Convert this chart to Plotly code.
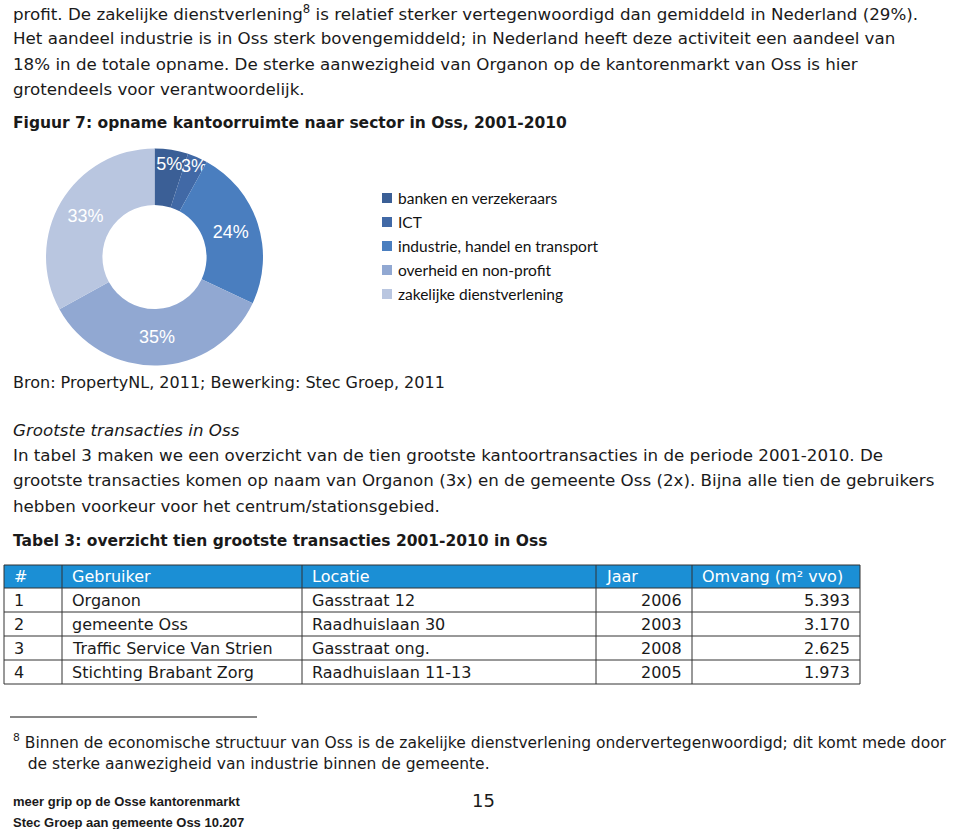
import plotly.graph_objects as go

# donut data
sectors = ["banken en verzekeraars", "ICT", "industrie, handel en transport",
           "overheid en non-profit", "zakelijke dienstverlening"]
shares = [5, 3, 24, 35, 33]
sector_colors = ["#3b5f96", "#4169a6", "#4a7ebf", "#91a8d2", "#b9c6e0"]

# table data
tbl_header = ["#", "Gebruiker", "Locatie", "Jaar", "Omvang (m² vvo)"]
tbl_nr = ["1", "2", "3", "4"]
tbl_gebruiker = ["Organon", "gemeente Oss", "Traffic Service Van Strien", "Stichting Brabant Zorg"]
tbl_locatie = ["Gasstraat 12", "Raadhuislaan 30", "Gasstraat ong.", "Raadhuislaan 11-13"]
tbl_jaar = ["2006", "2003", "2008", "2005"]
tbl_omvang = ["5.393", "3.170", "2.625", "1.973"]

intro_lines = [
    "profit. De zakelijke dienstverlening<sup>8</sup> is relatief sterker vertegenwoordigd dan gemiddeld in Nederland (29%).",
    "Het aandeel industrie is in Oss sterk bovengemiddeld; in Nederland heeft deze activiteit een aandeel van",
    "18% in de totale opname. De sterke aanwezigheid van Organon op de kantorenmarkt van Oss is hier",
    "grotendeels voor verantwoordelijk.",
]
body_lines = [
    "In tabel 3 maken we een overzicht van de tien grootste kantoortransacties in de periode 2001-2010. De",
    "grootste transacties komen op naam van Organon (3x) en de gemeente Oss (2x). Bijna alle tien de gebruikers",
    "hebben voorkeur voor het centrum/stationsgebied.",
]
foot_lines = [
    "<sup>8</sup> Binnen de economische structuur van Oss is de zakelijke dienstverlening ondervertegenwoordigd; dit komt mede door",
    "   de sterke aanwezigheid van industrie binnen de gemeente.",
]

W, H = 960, 829
TXT = "DejaVu Sans, Liberation Sans, sans-serif"
INK = "#1a1a1a"

fig = go.Figure()
fig.add_trace(go.Pie(
    labels=sectors, values=shares, hole=0.48, sort=False, direction="clockwise",
    rotation=0, marker=dict(colors=sector_colors, line=dict(width=0)),
    texttemplate="%{value}%", textposition="inside", insidetextorientation="horizontal",
    textfont=dict(family="Liberation Sans, Arial, sans-serif", size=18, color="white"), showlegend=False,
    domain=dict(x=[46 / W, 263 / W], y=[1 - 366 / H, 1 - 148 / H]),
))

ann = []
def txt(x, y, s, size=16.7, anchor="left", color=INK, family=TXT):
    ann.append(dict(x=x, y=y, xref="x", yref="y", text=s, showarrow=False, xanchor=anchor,
                    yanchor="middle", font=dict(family=family, size=size, color=color)))

for i, s in enumerate(intro_lines):
    txt(11, 13 + i * 25.3, s)
txt(11, 123, "<b>Figuur 7: opname kantoorruimte naar sector in Oss, 2001-2010</b>", size=15.5)

# manual legend
for i, (lab, c) in enumerate(zip(sectors, sector_colors)):
    y = 198 + i * 24
    fig.add_shape(type="rect", x0=382, x1=392, y0=y - 5, y1=y + 5, fillcolor=c, line=dict(width=0))
    txt(396, y, lab, size=15.5, family="Lato, Open Sans, sans-serif", color="#111")

txt(11, 382, "Bron: PropertyNL, 2011; Bewerking: Stec Groep, 2011", size=16)
txt(11, 430, "<i>Grootste transacties in Oss</i>")
for i, s in enumerate(body_lines):
    txt(11, 455 + i * 25.3, s)
txt(11, 541, "<b>Tabel 3: overzicht tien grootste transacties 2001-2010 in Oss</b>", size=15.5)

# table
cols = [4, 62, 302, 596, 692, 860]
rows = [565, 588, 612, 636, 660, 684]
fig.add_shape(type="rect", x0=cols[0], x1=cols[-1], y0=rows[0], y1=rows[1],
              fillcolor="#1b8fd5", line=dict(width=0))
for y in rows:
    fig.add_shape(type="line", x0=cols[0], x1=cols[-1], y0=y, y1=y, line=dict(color="#333", width=1))
for x in cols:
    fig.add_shape(type="line", x0=x, x1=x, y0=rows[0], y1=rows[-1], line=dict(color="#333", width=1))
aligns = ["left", "left", "left", "right", "right"]
for ci, h in enumerate(tbl_header):
    txt(cols[ci] + 8, (rows[0] + rows[1]) / 2, h, size=16, color="white")
for ri, rec in enumerate(zip(tbl_nr, tbl_gebruiker, tbl_locatie, tbl_jaar, tbl_omvang)):
    ym = (rows[ri + 1] + rows[ri + 2]) / 2
    for ci, s in enumerate(rec):
        if aligns[ci] == "left":
            txt(cols[ci] + 8, ym, s, size=16)
        else:
            txt(cols[ci + 1] - 8, ym, s, size=16, anchor="right")

# footnote
fig.add_shape(type="line", x0=10, x1=257, y0=717, y1=717, line=dict(color="#111", width=1))
for i, s in enumerate(foot_lines):
    txt(11, 741 + i * 23, s, size=15.5)
txt(11, 801, "<b>meer grip op de Osse kantorenmarkt</b>", size=13, family="Liberation Sans, Arial, sans-serif")
txt(11, 822, "<b>Stec Groep aan gemeente Oss 10.207</b>", size=13, family="Liberation Sans, Arial, sans-serif")
txt(483, 800, "15", size=18, anchor="center")

fig.update_layout(
    width=W, height=H, margin=dict(l=0, r=0, t=0, b=0),
    paper_bgcolor="white", plot_bgcolor="white",
    xaxis=dict(range=[0, W], visible=False, fixedrange=True),
    yaxis=dict(range=[H, 0], visible=False, fixedrange=True),
    uniformtext=dict(minsize=18, mode="show"),
    annotations=ann,
)
fig.write_html("out.html", config={"displayModeBar": False},
               post_script="document.body.style.margin='0px';")
